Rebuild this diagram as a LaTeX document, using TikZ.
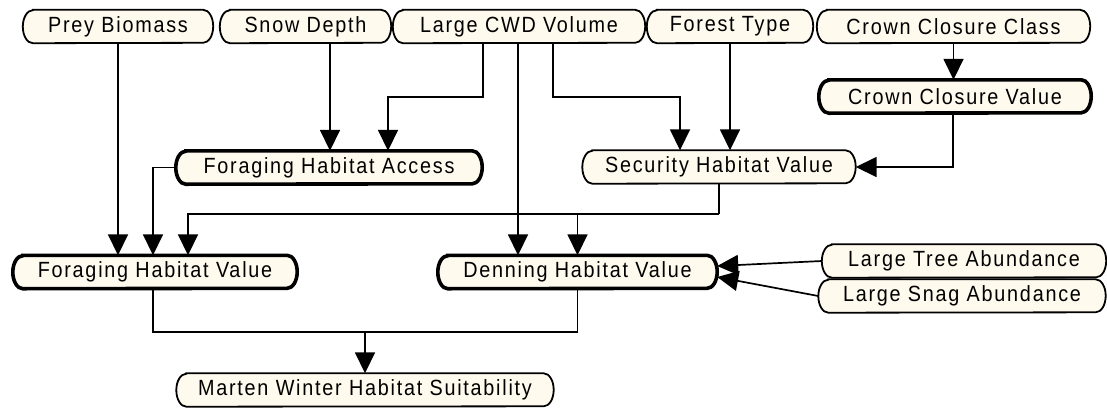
\documentclass[tikz,border=0pt]{standalone}
\usepackage{fontspec}
\setmainfont{Liberation Sans}[FakeStretch=0.9,LetterSpace=8]
\usetikzlibrary{arrows.meta,backgrounds}
\definecolor{pillfill}{RGB}{255,250,238}

\begin{document}
\begin{tikzpicture}[x=1pt,y=-1pt,
  box/.style={minimum height=33pt, inner sep=0pt, font=\fontsize{22pt}{26pt}\selectfont},
  wire/.style={line width=1.7pt},
  arr/.style={wire,-{Triangle[length=21pt,width=20pt]}},
  thinpill/.style={draw=black, fill=pillfill, line width=1.8pt},
  thickpill/.style={draw=black, fill=pillfill, line width=3.6pt},
]
\useasboundingbox (0,0) rectangle (1107,407);

% nodes
\node[box,minimum width=190pt] (prey)    at (118,26.5)   {Prey Biomass};
\node[box,minimum width=171pt] (snow)    at (305.5,26.5) {Snow Depth};
\node[box,minimum width=252pt] (cwd)     at (519,26.5)   {Large CWD Volume};
\node[box,minimum width=166pt] (forest)  at (730,26.5)   {Forest Type};
\node[box,minimum width=273pt] (ccclass) at (953.5,26.5) {Crown Closure Class};
\node[box,minimum width=272pt] (ccvalue) at (955,96.5)   {Crown Closure Value};
\node[box,minimum width=306pt] (fha)     at (329,167.5)  {Foraging Habitat Access};
\node[box,minimum width=273pt] (shv)     at (719,167)    {Security Habitat Value};
\node[box,minimum width=284pt] (fhv)     at (155,272)    {Foraging Habitat Value};
\node[box,minimum width=279pt] (dhv)     at (577.5,272)  {Denning Habitat Value};
\node[box,minimum width=284pt] (lta)     at (964,261)    {Large Tree Abundance};
\node[box,minimum width=287pt] (lsa)     at (962,296)    {Large Snag Abundance};
\node[box,minimum width=377pt] (mws)     at (365,390)    {Marten Winter Habitat Suitability};

% pill outlines behind the labels
\begin{scope}[on background layer]
\foreach \n in {prey,snow,cwd,forest,ccclass,shv,lta,lsa,mws}
  \draw[thinpill] ([xshift=10pt]\n.north west) -- ([xshift=-10pt]\n.north east)
    arc[start angle=90,end angle=-90,x radius=10pt,y radius=16.5pt]
    -- ([xshift=10pt]\n.south west)
    arc[start angle=270,end angle=90,x radius=10pt,y radius=16.5pt] -- cycle;
\foreach \n in {ccvalue,fha,fhv,dhv}
  \draw[thickpill] ([xshift=10pt]\n.north west) -- ([xshift=-10pt]\n.north east)
    arc[start angle=90,end angle=-90,x radius=10pt,y radius=16.5pt]
    -- ([xshift=10pt]\n.south west)
    arc[start angle=270,end angle=90,x radius=10pt,y radius=16.5pt] -- cycle;
\end{scope}

% connectors
\draw[arr] (prey.south) -- (prey.south |- fhv.north);
\draw[arr] ([xshift=24.5pt]snow.south) -- ([xshift=24.5pt]snow.south |- fha.north);
\draw[arr] ([xshift=-36pt]cwd.south) -- ++(0,54) -| ([xshift=59pt]fha.north);
\draw[arr] ([xshift=-1pt]cwd.south) -- ([xshift=-1pt]cwd.south |- dhv.north);
\draw[arr] ([xshift=34pt]cwd.south) -- ++(0,54) -| ([xshift=-39pt]shv.north);
\draw[arr] (forest.south) -- (forest.south |- shv.north);
\draw[arr] (ccclass.south) -- (ccclass.south |- ccvalue.north);
\draw[arr] ([xshift=-2pt]ccvalue.south) |- (shv.east);
\draw[wire] (shv.south) -- ++(0,30.5) coordinate (sj);
\draw[arr] (sj) -| ([xshift=33pt]fhv.north);
\draw[arr] (sj -| dhv.north) -- (dhv.north);
\draw[arr] (fha.west) -| ([xshift=-2pt]fhv.north);
\draw[arr] (lta.west) -- ([yshift=6pt]dhv.east);
\draw[arr] (lsa.west) -- ([yshift=-5pt]dhv.east);
\draw[wire] ([xshift=-2pt]fhv.south) -- ++(0,43.5) coordinate (bj) -| (dhv.south);
\draw[arr] (bj -| mws.north) -- (mws.north);
\end{tikzpicture}
\end{document}
